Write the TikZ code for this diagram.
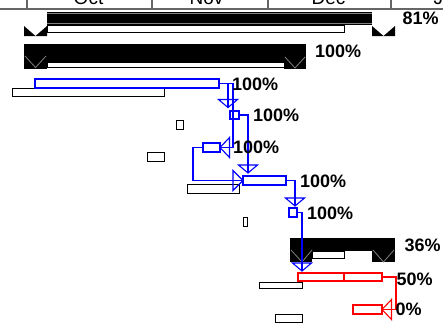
\documentclass[tikz,border=0pt]{standalone}
\usepackage{fontspec}
\setmainfont{Liberation Sans}
\usetikzlibrary{calc}
\newcommand\barnode[6]{%
  \pgfmathsetmacro\gbw{#4-#2}\pgfmathsetmacro\gbh{#5-#3}%
  \node[#6, minimum width=\gbw pt, minimum height=\gbh pt] (#1) at ({(#2+#4)/2},{(#3+#5)/2}) {};}
\newcommand\tridown[2]{\draw[#1] (#2) ++(-9.5,-8) -- ++(9.5,8) -- ++(9.5,-8) -- cycle;}
\newcommand\trileft[2]{\draw[#1] (#2) ++(9.5,-10) -- ++(-9.5,10) -- ++(9.5,10) -- cycle;}
\newcommand\triright[2]{\draw[#1] (#2) ++(-10,-10) -- ++(10,10) -- ++(-10,10) -- cycle;}
\tikzset{
 basebar/.style={draw=black, fill=white, line width=1pt, inner sep=0pt, outer sep=0pt},
 bluebar/.style={draw=blue, fill=white, line width=1.3pt, inner sep=0pt, outer sep=0pt},
 redbar/.style={draw=red, fill=white, line width=1.3pt, inner sep=0pt, outer sep=0pt},
 sumbar/.style={fill=black, draw=none, inner sep=0pt, outer sep=0pt},
 blink/.style={draw=blue, line width=1.1pt, line join=miter},
 rlink/.style={draw=red, line width=1.1pt, line join=miter},
 pct/.style={anchor=west, inner sep=0pt, font=\fontsize{18}{18}\selectfont\bfseries},
 hdr/.style={draw=black!60, line width=1.2pt},
 mon/.style={anchor=base, inner sep=0pt, font=\fontsize{19}{19}\selectfont},
 vmark/.style={draw=gray, line width=0.8pt},
}
\begin{document}
\begin{tikzpicture}[x=1pt,y=-1pt]
\useasboundingbox (0,0) rectangle (443,325);
\clip (0,0) rectangle (443,325);
% header
\draw[hdr] (0,9) -- (443,9);
\foreach \x in {27,152,268,391} \draw[hdr] (\x,-2) -- (\x,9);
\node[mon] (mOct) at (88.5,4.5) {Oct};
\node[mon] (mNov) at (206.5,4.5) {Nov};
\node[mon] (mDec) at (328.5,4.5) {Dec};
\node[mon, anchor=base west] (mJan) at (433.5,4.5) {Jan};
% row 1 summary 81%
\barnode{s1}{47}{12}{372}{25}{sumbar}
\draw[vmark] (s1.north west) ++(0,1.8) -- ++(325,0);
\draw[vmark] (s1.south west) ++(0,-2) -- ++(325,0);
\barnode{b1}{47}{25}{344}{32}{basebar}
\fill (24,26) -- (35.5,36) -- (47,26) -- (47,36) -- (24,36) -- cycle;
\fill (372,26) -- (383.5,36) -- (395,26) -- (395,36) -- (372,36) -- cycle;
% row 2 summary 100%
\barnode{s2}{47}{44}{284}{62}{sumbar}
\barnode{b2}{47}{62}{284}{67}{basebar}
\fill (24,44) rectangle (47,69);
\draw[vmark] (25,56) -- (35.5,67.5) -- (46,56);
\fill (284,44) rectangle (306,69);
\draw[vmark] (285,57) -- (295,68) -- (305,57);
% row 3
\barnode{b3}{12}{88.5}{164}{96.5}{basebar}
\barnode{r3}{35}{79}{219}{88}{bluebar}
% row 4
\barnode{b4}{176}{120}{183}{129}{basebar}
\barnode{r4}{230}{111}{239}{119}{bluebar}
% row 5
\barnode{b5}{147}{152.5}{164}{161.5}{basebar}
\barnode{r5}{203}{143}{220}{152}{bluebar}
% row 6
\barnode{b6}{187}{184.5}{239}{193.5}{basebar}
\barnode{r6}{243}{176}{286}{185}{bluebar}
% row 7
\barnode{b7}{243}{217}{247}{226}{basebar}
\barnode{r7}{289}{208}{297}{217}{bluebar}
% row 8 summary 36%
\barnode{s8}{312}{238}{372}{250.5}{sumbar}
\barnode{b8}{312}{251}{344}{258}{basebar}
\fill (290,238) rectangle (312,262);
\draw[vmark] (291,250) -- (302,262) -- (312,250);
\fill (372,238) rectangle (395,262);
\draw[vmark] (373,250) -- (383.5,262) -- (394,250);
% row 9
\barnode{b9}{259}{282}{302}{288}{basebar}
\barnode{r9}{298}{273}{382}{281}{redbar}
\draw[red, line width=1.3pt] (344,273) -- (344,281);
% row 10
\barnode{b10}{275}{314.5}{302}{322.5}{basebar}
\barnode{r10}{353}{305}{382}{314}{redbar}
% link end points
\coordinate (t4) at (228,107.5);
\coordinate (c35) at (233,147.5);
\coordinate (t6) at (248,173);
\coordinate (t7) at (295,206);
\coordinate (t9) at (302,271);
% links
\draw[blink] (r3.east) -| (t4);
\tridown{blink}{t4}
\draw[blink] (r3.east) -| (c35) -- (r5.east);
\trileft{blink}{r5.east}
\draw[blink] (r4.east) -| (t6);
\tridown{blink}{t6}
\draw[blink] (r5.west) -- ++(-10,0) |- (r6.west);
\triright{blink}{r6.west}
\draw[blink] (r6.east) -| (t7);
\tridown{blink}{t7}
\draw[blink] (r7.east) -| (t9);
\tridown{blink}{t9}
\draw[rlink] (r9.east) -- ++(14,0) |- (r10.east);
\trileft{rlink}{r10.east}
% labels
\node[pct] (l1) at (402.3,18.5) {81\%};
\node[pct] (l2) at (315,51) {100\%};
\node[pct] (l3) at (232,84) {100\%};
\node[pct] (l4) at (253,115.5) {100\%};
\node[pct] (l5) at (233,147.5) {100\%};
\node[pct] (l6) at (300,181) {100\%};
\node[pct] (l7) at (307,213.5) {100\%};
\node[pct] (l8) at (404.3,245) {36\%};
\node[pct] (l9) at (396.3,279) {50\%};
\node[pct] (l10) at (395.3,309) {0\%};
\end{tikzpicture}
\end{document}
